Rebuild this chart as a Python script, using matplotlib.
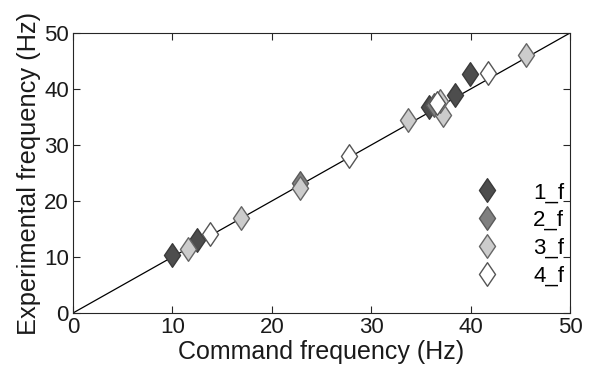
import numpy as np
import matplotlib.pyplot as plt
from matplotlib.path import Path

plt.rcParams['font.family'] = ['Liberation Sans', 'DejaVu Sans']

# ---------- data ----------
cmd_1 = [10.0, 12.5, 35.8, 38.4, 39.9]
exp_1 = [10.4, 13.0, 36.8, 38.9, 42.7]

cmd_2 = [22.8, 36.3]
exp_2 = [23.3, 37.2]

cmd_3 = [11.6, 16.9, 22.8, 33.7, 37.2, 45.6, 36.9]
exp_3 = [11.4, 17.0, 22.4, 34.5, 35.3, 46.0, 37.8]

cmd_4 = [13.8, 27.8, 36.6, 41.8]
exp_4 = [14.1, 28.1, 37.5, 42.9]

labels = ['1_f', '2_f', '3_f', '4_f']
faces = ['#4d4d4d', '#808080', '#cccccc', '#ffffff']
edges = ['#3a3a3a', '#5a5a5a', '#666666', '#555555']
# -----------------------------------------------

# MATLAB-like diamond (a bit narrower than tall)
diamond = Path([(0, 1), (0.68, 0), (0, -1), (-0.68, 0), (0, 1)],
               [Path.MOVETO, Path.LINETO, Path.LINETO, Path.LINETO, Path.CLOSEPOLY])

fig = plt.figure(figsize=(6.05, 3.89), dpi=100)
ax = fig.add_axes([73 / 605, 1 - 313 / 389, 497 / 605, 280 / 389])

ax.plot([0, 50], [0, 50], color='black', lw=0.9, zorder=1)

series = [(cmd_1, exp_1), (cmd_2, exp_2), (cmd_3, exp_3), (cmd_4, exp_4)]
order = [0, 2, 1, 3]
handles = [None] * 4
for i in order:
    xs, ys = series[i]
    handles[i] = ax.plot(xs, ys, linestyle='none', marker=diamond, markersize=17,
                         markerfacecolor=faces[i], markeredgecolor=edges[i],
                         markeredgewidth=1.0, label=labels[i], zorder=2 + i)[0]

ax.set_xlim(0, 50)
ax.set_ylim(0, 50)
ax.set_xticks(np.arange(0, 51, 10))
ax.set_yticks(np.arange(0, 51, 10))
ax.tick_params(direction='in', top=True, right=True, length=5, width=0.8,
               color='#262626', labelsize=16, labelcolor='#1a1a1a', pad=3)
for s in ax.spines.values():
    s.set_color('#262626')
    s.set_linewidth(0.8)

ax.set_xlabel('Command frequency (Hz)', fontsize=18, color='#1a1a1a', labelpad=1)
ax.set_ylabel('Experimental frequency (Hz)', fontsize=18.3, color='#1a1a1a', labelpad=2)

ax.legend(handles=handles, labels=labels, loc='center left', frameon=False,
          fontsize=16, handlelength=1.0, handletextpad=1.57, labelspacing=0.31,
          borderpad=0, borderaxespad=0, bbox_to_anchor=(0.811, 0.28))

fig.savefig('out.png', dpi=100)
